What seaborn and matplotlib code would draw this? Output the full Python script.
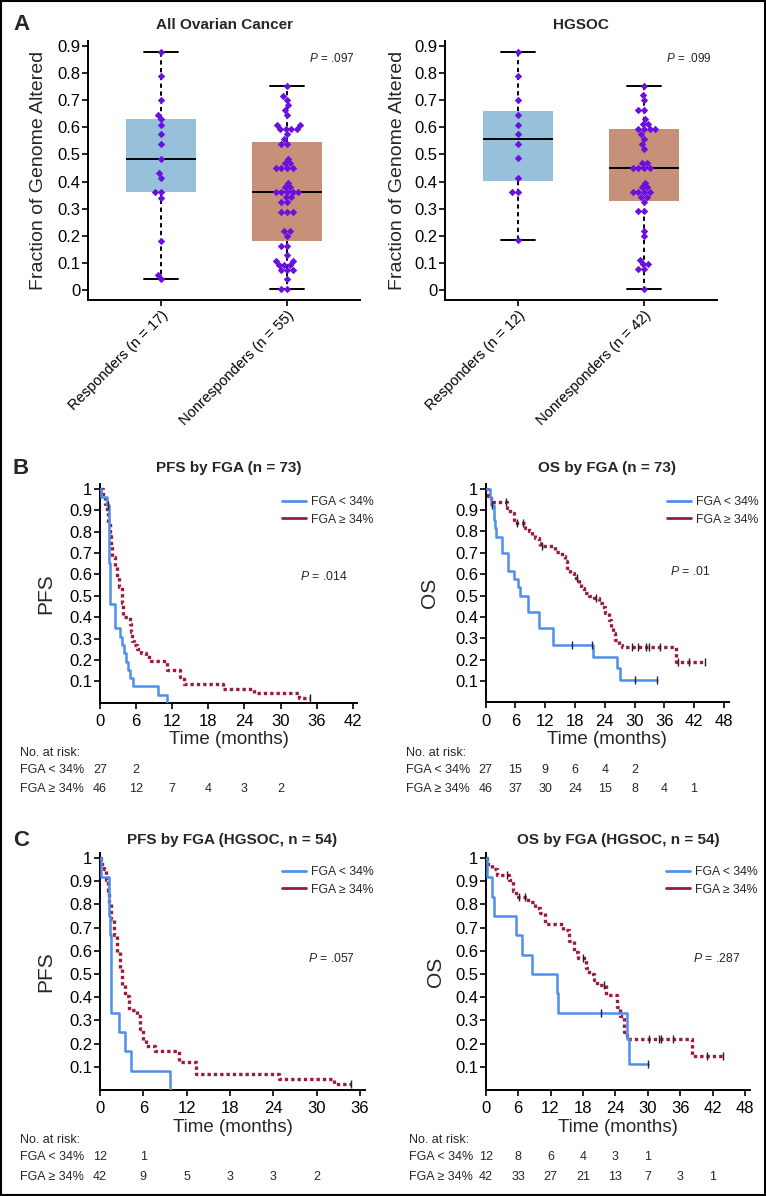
import numpy as np
import pandas as pd
import matplotlib
matplotlib.use("Agg")
import matplotlib.pyplot as plt
import seaborn as sns
from matplotlib import font_manager
from matplotlib.lines import Line2D
from matplotlib.patches import Rectangle
from matplotlib.transforms import blended_transform_factory

sns.set_theme(style="ticks")
_names = {f.name for f in font_manager.fontManager.ttflist}
NARROW = "Liberation Sans Narrow" if "Liberation Sans Narrow" in _names else "Liberation Sans"
LBL = 15 if NARROW != "Liberation Sans" else 13.5
plt.rcParams.update({
    "font.family": ["Liberation Sans", "DejaVu Sans"],
    "axes.linewidth": 1.4,
    "axes.edgecolor": "black",
    "xtick.color": "black",
    "ytick.color": "black",
    "xtick.major.width": 1.2,
    "ytick.major.width": 1.2,
    "xtick.major.size": 4,
    "ytick.major.size": 4,
    "mathtext.fontset": "custom",
    "mathtext.it": "Liberation Sans:italic",
    "mathtext.rm": "Liberation Sans",
})

BOX_BLUE = "#8BC2E7"
BOX_ORANGE = "#D48B6B"
PURPLE = "#6A10E0"
KM_BLUE = "#4D8FEA"
KM_RED = "#9C1A3E"

# ---------------- Panel A data (fraction of genome altered) ----------------
all_labels = ["Responders (n = 17)", "Nonresponders (n = 55)"]
all_resp = [0.877, 0.788, 0.701, 0.645, 0.630, 0.609, 0.574, 0.539, 0.484,
            0.432, 0.414, 0.361, 0.361, 0.339, 0.182, 0.055, 0.039]
all_nonresp = [0.752, 0.716, 0.702, 0.681, 0.664, 0.646, 0.609, 0.609,
               0.593, 0.593, 0.593, 0.593, 0.574, 0.556, 0.539, 0.539,
               0.484, 0.467, 0.467, 0.449, 0.449, 0.449, 0.449, 0.396,
               0.379, 0.379, 0.361, 0.361, 0.361, 0.361, 0.361, 0.342,
               0.342, 0.323, 0.323, 0.288, 0.288, 0.288, 0.216, 0.216,
               0.199, 0.162, 0.162, 0.128, 0.108, 0.108, 0.092, 0.092,
               0.092, 0.075, 0.075, 0.075, 0.039, 0.004, 0.004]
hg_labels = ["Responders (n = 12)", "Nonresponders (n = 42)"]
hg_resp = [0.879, 0.788, 0.701, 0.647, 0.610, 0.574, 0.540, 0.487, 0.414,
           0.361, 0.361, 0.184]
hg_nonresp = [0.754, 0.721, 0.702, 0.666, 0.666, 0.630, 0.612, 0.612,
              0.593, 0.593, 0.593, 0.593, 0.574, 0.557, 0.539, 0.521,
              0.467, 0.467, 0.449, 0.449, 0.449, 0.449, 0.396, 0.379,
              0.379, 0.361, 0.361, 0.361, 0.361, 0.342, 0.342, 0.326,
              0.290, 0.290, 0.219, 0.199, 0.111, 0.095, 0.095, 0.076,
              0.076, 0.004]

# ---------------- Panel B data (all patients, n = 73) ----------------
pfs_lo_t = [0, 0.17, 1.14, 1.49, 1.71, 2.57, 3.31, 3.66, 4.0, 4.29, 4.57, 5.03, 5.49, 9.7, 11.1]
pfs_lo_s = [1, 0.963, 0.926, 0.655, 0.463, 0.347, 0.308, 0.27, 0.23, 0.19, 0.154, 0.115, 0.077, 0.038, 0.0]
pfs_lo_cens_t = [1.33]
pfs_lo_cens_s = [0.926]
pfs_hi_t = [0, 0.46, 0.8, 1.14, 1.37, 1.6, 1.85, 2.06, 2.46, 2.86, 3.2, 3.6, 3.89, 4.91,
            5.14, 5.37, 5.66, 6.17, 6.74, 7.6, 8.46, 11.1, 13.3, 13.9, 20.4, 25.6, 33.0, 34.9]
pfs_hi_s = [1, 0.965, 0.93, 0.894, 0.84, 0.777, 0.73, 0.683, 0.636, 0.589, 0.542, 0.464, 0.402, 0.37,
            0.33, 0.29, 0.269, 0.253, 0.23, 0.214, 0.195, 0.153, 0.12, 0.087, 0.064, 0.044, 0.022, 0.022]
pfs_hi_cens_t = [34.9]
pfs_hi_cens_s = [0.022]

os_lo_t = [0, 0.9, 1.14, 1.6, 1.8, 2.15, 3.36, 4.4, 5.7, 6.5, 7.0, 8.5, 10.8, 13.5, 21.6, 26.4, 27.0, 34.6]
os_lo_s = [1, 0.963, 0.926, 0.852, 0.815, 0.774, 0.7, 0.617, 0.578, 0.54, 0.5, 0.423, 0.347, 0.269,
           0.214, 0.16, 0.105, 0.105]
os_lo_cens_t = [1.2, 17.3, 21.4, 30.2, 34.6]
os_lo_cens_s = [0.926, 0.269, 0.269, 0.105, 0.105]
os_hi_t = [0, 0.4, 1.08, 4.3, 4.8, 5.8, 7.96, 8.63, 9.3, 9.98, 10.65, 11.0, 14.0, 15.37, 16.05, 16.39,
           17.06, 17.73, 18.75, 19.29, 19.76, 20.77, 21.78, 22.8, 23.47, 24.14, 24.8, 25.35, 25.6,
           26.16, 26.84, 27.5, 38.3, 44.2]
os_hi_s = [1, 0.967, 0.936, 0.91, 0.886, 0.839, 0.816, 0.8, 0.784, 0.768, 0.745, 0.733, 0.706, 0.683,
           0.66, 0.628, 0.605, 0.58, 0.558, 0.534, 0.511, 0.498, 0.488, 0.464, 0.448, 0.417, 0.386,
           0.355, 0.323, 0.292, 0.269, 0.258, 0.19, 0.19]
os_hi_cens_t = [4.1, 6.3, 7.5, 11.3, 18.4, 22.2, 29.5, 30.8, 32.4, 33.0, 35.2, 38.8, 41.0, 44.2]
os_hi_cens_s = [0.936, 0.839, 0.839, 0.733, 0.58, 0.488, 0.258, 0.258, 0.258, 0.258, 0.258, 0.19, 0.19, 0.19]

risk_pfs_lo = [27, 2]
risk_pfs_hi = [46, 12, 7, 4, 3, 2]
risk_os_lo = [27, 15, 9, 6, 4, 2]
risk_os_hi = [46, 37, 30, 24, 15, 8, 4, 1]

# ---------------- Panel C data (HGSOC, n = 54) ----------------
pfs2_lo_t = [0, 0.14, 1.2, 1.38, 1.56, 2.62, 3.45, 4.36, 9.66]
pfs2_lo_s = [1, 0.917, 0.75, 0.667, 0.333, 0.25, 0.167, 0.083, 0.0]
pfs2_hi_t = [0, 0.2, 0.5, 0.8, 1.05, 1.3, 1.5, 2.0, 2.4, 2.75, 3.1, 3.5, 3.95, 5.1, 5.5, 6.0, 6.4,
             7.6, 11.0, 13.3, 24.8, 32.4, 34.7]
pfs2_hi_s = [1, 0.976, 0.952, 0.905, 0.857, 0.81, 0.738, 0.667, 0.595, 0.524, 0.452, 0.405, 0.345,
             0.318, 0.262, 0.214, 0.19, 0.167, 0.119, 0.071, 0.048, 0.024, 0.024]
pfs2_hi_cens_t = [34.7]
pfs2_hi_cens_s = [0.024]

os2_lo_t = [0, 0.18, 1.23, 1.54, 5.54, 6.77, 8.6, 13.2, 13.4, 26.2, 26.6, 30.0]
os2_lo_s = [1, 0.917, 0.833, 0.75, 0.667, 0.583, 0.5, 0.417, 0.333, 0.222, 0.111, 0.111]
os2_lo_cens_t = [21.4, 30.0]
os2_lo_cens_s = [0.333, 0.111]
os2_hi_t = [0, 0.18, 1.1, 2.0, 4.3, 5.0, 5.6, 7.9, 9.1, 10.1, 11.0, 14.3, 15.5, 16.4, 17.0, 18.6,
            19.1, 20.0, 20.6, 22.3, 24.3, 24.9, 25.5, 26.1, 38.1, 43.9]
os2_hi_s = [1, 0.976, 0.952, 0.929, 0.905, 0.857, 0.833, 0.81, 0.786, 0.762, 0.714, 0.69, 0.643,
            0.595, 0.571, 0.524, 0.5, 0.476, 0.452, 0.41, 0.36, 0.317, 0.252, 0.222, 0.148, 0.148]
os2_hi_cens_t = [4.0, 6.2, 7.3, 18.0, 21.9, 30.3, 32.1, 32.4, 34.7, 41.0, 43.9]
os2_hi_cens_s = [0.929, 0.833, 0.833, 0.571, 0.452, 0.222, 0.222, 0.222, 0.222, 0.148, 0.148]

risk2_pfs_lo = [12, 1]
risk2_pfs_hi = [42, 9, 5, 3, 3, 2]
risk2_os_lo = [12, 8, 6, 4, 3, 1]
risk2_os_hi = [42, 33, 27, 21, 13, 7, 3, 1]

# ---------------- layout helpers (pixel based) ----------------
W, H = 766, 1196
fig = plt.figure(figsize=(W / 100, H / 100), dpi=100)


def add_ax(l, t, r, b):
    ax = fig.add_axes([l / W, 1 - b / H, (r - l) / W, (b - t) / H])
    ax.set_facecolor("none")
    sns.despine(ax=ax)
    return ax


def px_to_ax(ax, px, py):
    bb = ax.get_position()
    return (px / W - bb.x0) / bb.width, ((1 - py / H) - bb.y0) / bb.height


def ptext(px, py, s, **kw):
    fig.text(px / W, 1 - py / H, s, **kw)


def box_panel(ax, resp, nonresp, labels, title, pval, ylab_px):
    df = pd.DataFrame({"group": [labels[0]] * len(resp) + [labels[1]] * len(nonresp),
                       "fga": resp + nonresp})
    sns.boxplot(data=df, x="group", y="fga", hue="group", order=labels, hue_order=labels,
                palette=[BOX_BLUE, BOX_ORANGE], legend=False, whis=(0, 100), width=0.55,
                showfliers=False, linecolor="black", linewidth=1.4,
                boxprops=dict(edgecolor="none"),
                whiskerprops=dict(linestyle=(0, (2.2, 1.8))), ax=ax)
    sns.swarmplot(data=df, x="group", y="fga", order=labels, color=PURPLE, marker="D",
                  size=3.8, zorder=3, ax=ax)
    ax.set_xlim(-0.58, 1.58)
    ax.set_ylim(-0.037, 0.92)
    ax.set_yticks(np.arange(0, 0.91, 0.1))
    ax.set_yticklabels(["0"] + [f"{v:.1f}" for v in np.arange(0.1, 0.91, 0.1)], fontsize=12)
    ax.tick_params(axis="y", pad=1.5)
    ax.set_xticks([0, 1])
    ax.set_xticklabels(labels, rotation=45, ha="right", va="top", rotation_mode="anchor", fontsize=10.5)
    ax.tick_params(axis="x", pad=2)
    ax.set_xlabel("")
    ax.set_ylabel("Fraction of Genome Altered", fontsize=LBL + 0.5, family=NARROW, va="center")
    ax.yaxis.set_label_coords(*px_to_ax(ax, ylab_px, 170))
    ax.set_title(title, fontsize=11, fontweight="bold", y=px_to_ax(ax, 0, 25)[1], pad=0, va="center")
    ptext(pval[0], pval[1], pval[2], fontsize=8.5, va="center")


def km_panel(ax, curves, xmax, xtick_max, ylab, ylab_px, title, title_py, xlab_py, leg_px, pval):
    lo_t, lo_s, lo_ct, lo_cs, hi_t, hi_s, hi_ct, hi_cs = curves
    ax.step(lo_t, lo_s, where="post", color=KM_BLUE, lw=1.8, zorder=3)
    ax.step(hi_t, hi_s, where="post", color=KM_RED, lw=2.4, linestyle=(0, (1, 0.9)), zorder=2)
    ax.plot(lo_ct + hi_ct, lo_cs + hi_cs, linestyle="none", marker="|", ms=6, mew=1.0,
            color="#222222", zorder=4)
    ax.set_xlim(0, xmax)
    ax.set_ylim(0, 1.022)
    ax.set_xticks(np.arange(0, xtick_max + 1, 6))
    ax.set_xticklabels([str(v) for v in range(0, xtick_max + 1, 6)], fontsize=12)
    ax.set_yticks(np.arange(0.1, 1.01, 0.1))
    ax.set_yticklabels([f"{v:.1f}" for v in np.arange(0.1, 0.91, 0.1)] + ["1"], fontsize=12)
    ax.tick_params(axis="y", pad=1.5)
    ax.tick_params(axis="x", pad=4)
    ax.set_xlabel("Time (months)", fontsize=LBL, family=NARROW, va="center")
    ax.xaxis.set_label_coords(0.5, px_to_ax(ax, 0, xlab_py)[1])
    ax.set_ylabel(ylab, fontsize=LBL + 1.5, family=NARROW, va="center")
    ax.yaxis.set_label_coords(px_to_ax(ax, ylab_px, 0)[0], 0.5)
    ax.set_title(title, fontsize=11, fontweight="bold", y=px_to_ax(ax, 0, title_py)[1], pad=0, va="center")
    handles = [Line2D([], [], color=KM_BLUE, lw=2), Line2D([], [], color=KM_RED, lw=2)]
    ax.legend(handles, ["FGA < 34%", "FGA \u2265 34%"], loc="center left",
              bbox_to_anchor=(leg_px[0] / W, 1 - leg_px[1] / H), bbox_transform=fig.transFigure,
              frameon=False, fontsize=8.8, borderpad=0, borderaxespad=0, handlelength=1.95,
              handletextpad=0.45, labelspacing=0.42)
    ptext(pval[0], pval[1], pval[2], fontsize=8.8, va="center")


def risk_table(ax, x_px, rows_py, lo, hi):
    trans = blended_transform_factory(ax.transData, fig.transFigure)
    ptext(x_px, rows_py[0], "No. at risk:", fontsize=9, va="center")
    ptext(x_px, rows_py[1], "FGA < 34%", fontsize=9, va="center")
    ptext(x_px, rows_py[2], "FGA \u2265 34%", fontsize=9, va="center")
    for i, n in enumerate(lo):
        ax.text(6 * i, 1 - rows_py[1] / H, str(n), transform=trans, ha="center", va="center", fontsize=9)
    for i, n in enumerate(hi):
        ax.text(6 * i, 1 - rows_py[2] / H, str(n), transform=trans, ha="center", va="center", fontsize=9)


# ---------------- Panel A ----------------
axA1 = add_ax(88, 40.7, 360, 300)
box_panel(axA1, all_resp, all_nonresp, all_labels, "All Ovarian Cancer", (309, 59, "$P$ = .097"), 39)
axA2 = add_ax(445, 40.7, 717, 300)
box_panel(axA2, hg_resp, hg_nonresp, hg_labels, "HGSOC", (666, 59, "$P$ = .099"), 398)

# ---------------- Panel B ----------------
axB1 = add_ax(100, 484, 357, 702.7)
km_panel(axB1, (pfs_lo_t, pfs_lo_s, pfs_lo_cens_t, pfs_lo_cens_s,
                pfs_hi_t, pfs_hi_s, pfs_hi_cens_t, pfs_hi_cens_s),
         42.7, 42, "PFS", 46, "PFS by FGA (n = 73)", 468, 740, (282, 511), (300, 577, "$P$ = .014"))
risk_table(axB1, 20, (753, 770, 789), risk_pfs_lo, risk_pfs_hi)

axB2 = add_ax(485.7, 484, 729, 702.4)
km_panel(axB2, (os_lo_t, os_lo_s, os_lo_cens_t, os_lo_cens_s,
                os_hi_t, os_hi_s, os_hi_cens_t, os_hi_cens_s),
         49.05, 48, "OS", 430, "OS by FGA (n = 73)", 468, 740, (667, 511), (670, 571, "$P$ = .01"))
risk_table(axB2, 405.7, (753, 770, 789), risk_os_lo, risk_os_hi)

# ---------------- Panel C ----------------
axC1 = add_ax(100, 853, 365, 1090)
km_panel(axC1, (pfs2_lo_t, pfs2_lo_s, [], [],
                pfs2_hi_t, pfs2_hi_s, pfs2_hi_cens_t, pfs2_hi_cens_s),
         36.7, 36, "PFS", 46, "PFS by FGA (HGSOC, n = 54)", 840, 1128, (282, 881),
         (308, 959, "$P$ = .057"))
risk_table(axC1, 20, (1140, 1157, 1177), risk2_pfs_lo, risk2_pfs_hi)

axC2 = add_ax(485.7, 853, 750, 1090)
km_panel(axC2, (os2_lo_t, os2_lo_s, os2_lo_cens_t, os2_lo_cens_s,
                os2_hi_t, os2_hi_s, os2_hi_cens_t, os2_hi_cens_s),
         48.9, 48, "OS", 435, "OS by FGA (HGSOC, n = 54)", 840, 1128, (666, 881),
         (693, 959, "$P$ = .287"))
risk_table(axC2, 409, (1140, 1157, 1177), risk2_os_lo, risk2_os_hi)

# panel letters and outer frame
for letter, py in [("A", 25), ("B", 468), ("C", 840)]:
    ptext(21, py, letter, fontsize=16, fontweight="bold", ha="center", va="center")
fig.add_artist(Rectangle((0.6 / W, 0.6 / H), (W - 1.8) / W, (H - 1.8) / H, transform=fig.transFigure,
                         fill=False, edgecolor="black", lw=1.5))

fig.savefig("out.png", dpi=100)
